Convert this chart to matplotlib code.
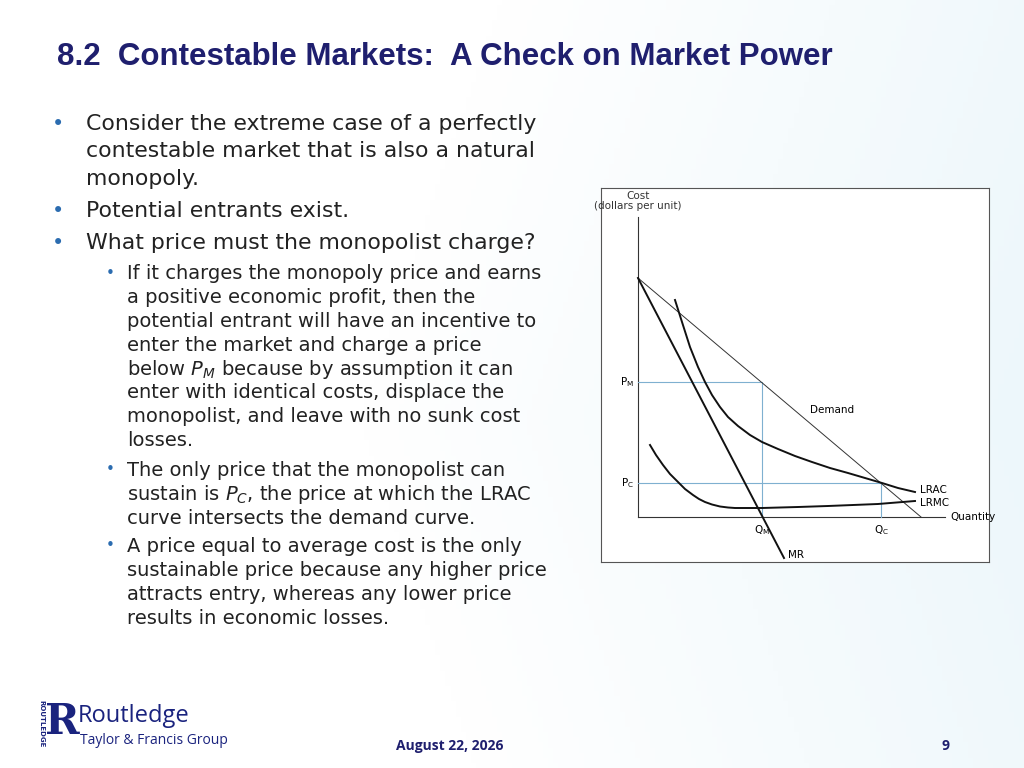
import matplotlib
matplotlib.use("Agg")
import matplotlib.pyplot as plt
import numpy as np

demand_q = [0, 283]; demand_p = [239, 0]
mr_q = [0, 146]; mr_p = [239, -41]
lrac_q = [37, 44, 52, 60, 67, 74, 82, 90, 100, 112, 124, 140, 157, 174, 192, 210, 227, 244, 260, 277]
lrac_p = [217, 195, 170, 150, 135, 122, 110, 100, 91, 82, 75, 68, 61, 55, 49, 44, 39, 34, 29, 25]
lrmc_q = [12, 18, 25, 32, 40, 47, 55, 61, 67, 74, 82, 90, 97, 110, 124, 160, 190, 240, 277]
lrmc_p = [72, 62, 52, 43, 35, 28, 22, 18, 15, 12.5, 10.5, 9.5, 9, 9, 9, 10, 11, 13, 16]
pm, qm, pc, qc = 135, 124, 34, 243

fig = plt.figure(figsize=(10.24, 7.68), dpi=100)
bg = fig.add_axes([0, 0, 1, 1]); bg.set_axis_off()
xx, yy = np.meshgrid(np.linspace(0, 1, 200), np.linspace(0, 1, 150))
g = np.clip((xx - 0.5) * 1.2 + (0.6 - np.abs(yy - 0.55)) * 0.3, 0, 1)
img = np.dstack([1 - 0.09 * g, 1 - 0.04 * g, 1 - 0.02 * g])
bg.imshow(img, extent=[0, 1, 0, 1], aspect='auto')
bg.set_xlim(0, 1); bg.set_ylim(0, 1)

W, H = 1024, 768
def T(x, y, s, **kw):
    fig.text(x / W, 1 - y / H, s, **kw)

navy = '#1f1f6e'
T(57, 57, "8.2  Contestable Markets:  A Check on Market Power", fontsize=22.5, fontweight='bold', color=navy, va='center', family='Liberation Sans')
main = [(124, "Consider the extreme case of a perfectly"), (151, "contestable market that is also a natural"),
        (179, "monopoly."), (211, "Potential entrants exist."), (243, "What price must the monopolist charge?")]
for y, s in main:
    T(86, y, s, fontsize=15.8, color='#222222', va='center', family='DejaVu Sans')
for y in (124, 211, 243):
    T(58, y, "•", fontsize=15, color='#2b6cb0', va='center', ha='center')
sub = [(274, "If it charges the monopoly price and earns"), (298, "a positive economic profit, then the"),
       (322, "potential entrant will have an incentive to"), (346, "enter the market and charge a price"),
       (370, r"below $P_M$ because by assumption it can"), (393, "enter with identical costs, displace the"),
       (417, "monopolist, and leave with no sunk cost"), (441, "losses."),
       (470, "The only price that the monopolist can"), (494, r"sustain is $P_C$, the price at which the LRAC"),
       (518, "curve intersects the demand curve."),
       (546, "A price equal to average cost is the only"), (570, "sustainable price because any higher price"),
       (594, "attracts entry, whereas any lower price"), (618, "results in economic losses.")]
for y, s in sub:
    T(127, y, s, fontsize=14, color='#222222', va='center', family='DejaVu Sans')
for y in (274, 470, 546):
    T(110, y, "•", fontsize=11, color='#2b6cb0', va='center', ha='center')

T(450, 746, "August 22, 2026", fontsize=10, fontweight='bold', color=navy, va='center', ha='center', family='Open Sans')
T(945, 746, "9", fontsize=10, fontweight='bold', color=navy, va='center', ha='center', family='Open Sans')
T(78, 716, "Routledge", fontsize=17, color='#1a237e', va='center', family='Open Sans')
T(80, 741, "Taylor & Francis Group", fontsize=10, color='#1a237e', va='center', family='Open Sans')
T(41, 724, "ROUTLEDGE", fontsize=5, color='#1a237e', va='center', ha='center', rotation=-90, fontweight='bold')
T(62, 722, "R", fontsize=30, color='#1a237e', va='center', ha='center', fontweight='bold', family='DejaVu Serif')

# chart
ax = fig.add_axes([601 / W, 1 - 562 / H, 388 / W, 374 / H])
ax.set_facecolor('white')
ax.set_xlim(-37, 351); ax.set_ylim(-45, 329)
ax.set_xticks([]); ax.set_yticks([])
for s in ax.spines.values():
    s.set_color('#555555'); s.set_linewidth(0.8)
ax.plot([0, 0], [0, 300], color='#333333', lw=0.8)
ax.plot([0, 307], [0, 0], color='#333333', lw=0.8)
blue = '#7fb0d0'
ax.plot([0, qm, qm], [pm, pm, 0], color=blue, lw=0.8)
ax.plot([0, qc, qc], [pc, pc, 0], color=blue, lw=0.8)
ax.plot(demand_q, demand_p, color='#333333', lw=0.7)
ax.plot(mr_q, mr_p, color='#111111', lw=1.4)
ax.plot(lrac_q, lrac_p, color='#111111', lw=1.4)
ax.plot(lrmc_q, lrmc_p, color='#111111', lw=1.4)
fs = 7.5
ax.text(0, 329 - 3, "Cost\n(dollars per unit)", fontsize=fs, ha='center', va='top', color='#333333', linespacing=1.0)
ax.text(-4, pm, r"P$_\mathregular{M}$", fontsize=fs, ha='right', va='center')
ax.text(-4, pc, r"P$_\mathregular{C}$", fontsize=fs, ha='right', va='center')
ax.text(qm, -6, r"Q$_\mathregular{M}$", fontsize=fs, ha='center', va='top')
ax.text(qc, -6, r"Q$_\mathregular{C}$", fontsize=fs, ha='center', va='top')
ax.text(150, -38, "MR", fontsize=fs, ha='left', va='center')
ax.text(172, 107, "Demand", fontsize=fs, ha='left', va='center')
ax.text(282, 27, "LRAC", fontsize=fs, ha='left', va='center')
ax.text(282, 14, "LRMC", fontsize=fs, ha='left', va='center')
ax.text(312, 0, "Quantity", fontsize=fs, ha='left', va='center')

fig.savefig("out.png", dpi=100)
